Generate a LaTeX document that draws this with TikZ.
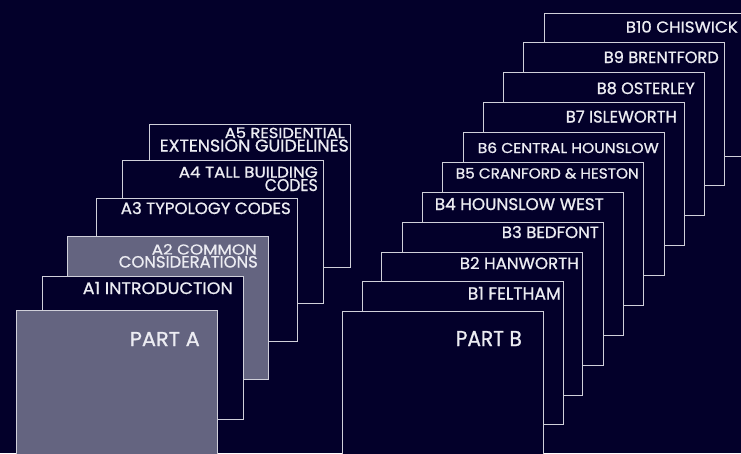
\documentclass[tikz,border=0pt]{standalone}
\usepackage{graphicx}
\usepackage{fontspec}
\setmainfont{Poppins}[FakeBold=0.9,UprightFeatures={FakeBold=0.9}]
\definecolor{bg}{HTML}{03002A}
\definecolor{slate}{HTML}{646480}
\definecolor{edge}{HTML}{D0D0DA}
\definecolor{txt}{HTML}{ECECF2}
\newcommand{\fitlab}[3]{\resizebox{#1pt}{#2pt}{#3}}
\tikzset{
  page/.style={draw=edge, line width=1.3pt, fill=bg, rectangle, inner sep=0pt,
    minimum width=201pt, minimum height=143pt, anchor=north west},
  greypage/.style={page, fill=slate},
  lab/.style={anchor=base east, inner sep=0pt, text=txt}
}
\begin{document}
\begin{tikzpicture}[x=1pt,y=-1pt]
\fill[bg] (0,0) rectangle (741,453);
\useasboundingbox (0,0) rectangle (741,453);
% Part A stack
\node[page] (a5) at (149,124) {};
\node[page] (a4) at (122,160) {};
\node[page] (a3) at (96,198) {};
\node[greypage] (a2) at (67,236) {};
\node[page] (a1) at (42,276) {};
\node[greypage, minimum height=160pt] (pa) at (16,310) {};
\node[lab] (a5t1) at (345,138) {\fitlab{120}{10.5}{A5 RESIDENTIAL}};
\node[lab] (a5t2) at (349,151.5) {\fitlab{189}{12}{EXTENSION GUIDELINES}};
\node[lab] (a4t1) at (318,177.5) {\fitlab{139}{11}{A4 TALL BUILDING}};
\node[lab] (a4t2) at (318,191) {\fitlab{53}{12}{CODES}};
\node[lab] (a3t) at (291,214) {\fitlab{170}{12}{A3 TYPOLOGY CODES}};
\node[lab] (a2t1) at (257,254.5) {\fitlab{105}{10.5}{A2 COMMON}};
\node[lab] (a2t2) at (258,267.5) {\fitlab{139}{11.5}{CONSIDERATIONS}};
\node[lab] (a1t) at (233,294) {\fitlab{150}{12}{A1 INTRODUCTION}};
\node[lab] (pat) at (200,346) {\fitlab{70}{14}{PART A}};
% Part B stack
\node[page, minimum width=220pt] (b10) at (544,13) {};
\node[page] (b9) at (523,42) {};
\node[page] (b8) at (503,72) {};
\node[page] (b7) at (483,102) {};
\node[page] (b6) at (463,132) {};
\node[page] (b5) at (442,162) {};
\node[page] (b4) at (422,192) {};
\node[page] (b3) at (402,222) {};
\node[page] (b2) at (381,252) {};
\node[page] (b1) at (362,281) {};
\node[page, minimum height=160pt] (pb) at (342,311) {};
\node[lab] (b10t) at (738,32.5) {\fitlab{112}{11.5}{B10 CHISWICK}};
\node[lab] (b9t) at (719,63) {\fitlab{115}{12}{B9 BRENTFORD}};
\node[lab] (b8t) at (695,94) {\fitlab{98}{12}{B8 OSTERLEY}};
\node[lab] (b7t) at (677,122.5) {\fitlab{111}{12}{B7 ISLEWORTH}};
\node[lab] (b6t) at (659,153) {\fitlab{181}{10.5}{B6 CENTRAL HOUNSLOW}};
\node[lab] (b5t) at (639,178.5) {\fitlab{183}{10.5}{B5 CRANFORD \& HESTON}};
\node[lab] (b4t) at (604,210) {\fitlab{169}{12}{B4 HOUNSLOW WEST}};
\node[lab] (b3t) at (599,238) {\fitlab{97}{12}{B3 BEDFONT}};
\node[lab] (b2t) at (579,269) {\fitlab{119}{12}{B2 HANWORTH}};
\node[lab] (b1t) at (561,299.5) {\fitlab{93}{12.5}{B1 FELTHAM}};
\node[lab] (pbt) at (522,346) {\fitlab{66}{15}{PART B}};
\end{tikzpicture}
\end{document}
